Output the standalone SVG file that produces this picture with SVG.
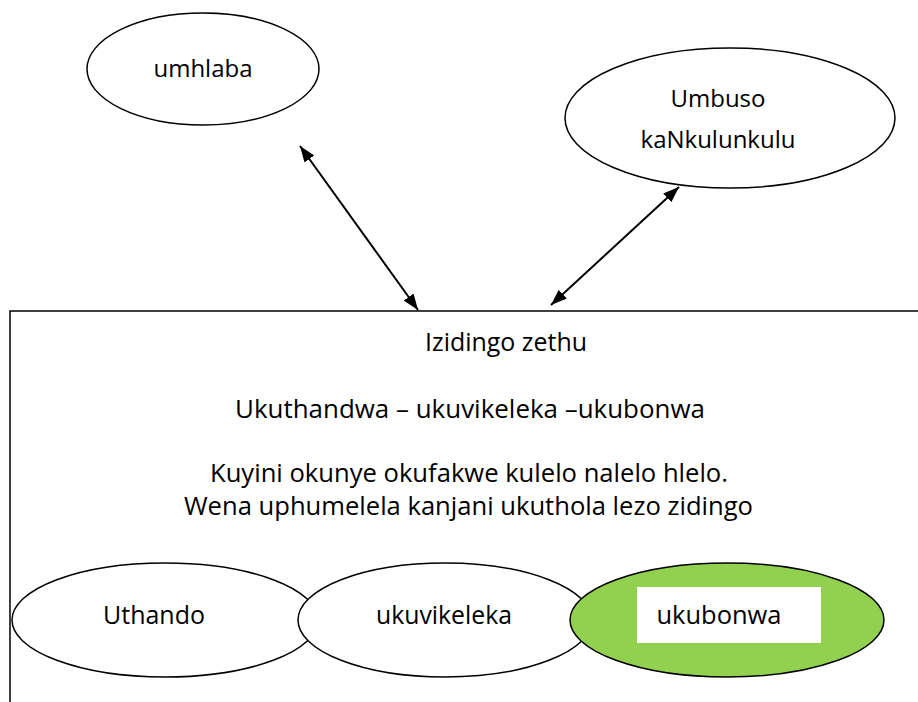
<svg xmlns="http://www.w3.org/2000/svg" width="918" height="702" viewBox="0 0 918 702">
<style>
.n{fill:#fff;stroke:#000;stroke-width:1.5}
.t{font-family:"Open Sans","Liberation Sans",sans-serif;font-size:24px;fill:#000;text-anchor:middle}
.b{font-size:26px}
</style>
<defs>
<marker id="a" viewBox="0 0 16 12" refX="16" refY="6" markerWidth="16" markerHeight="12" markerUnits="userSpaceOnUse" orient="auto-start-reverse">
<path d="M0,0 L16,6 L0,12 z" fill="#000"/>
</marker>
</defs>
<rect width="918" height="702" fill="#fff"/>
<g id="box">
<path d="M10,702 L10,311 L918,311" fill="none" stroke="#000" stroke-width="1.5"/>
<text class="t b" x="506" y="351" textLength="162" lengthAdjust="spacingAndGlyphs">Izidingo zethu</text>
<text class="t b" x="470" y="418" textLength="470" lengthAdjust="spacingAndGlyphs">Ukuthandwa – ukuvikeleka –ukubonwa</text>
<text class="t b" x="469" y="482" textLength="518" lengthAdjust="spacingAndGlyphs">Kuyini okunye okufakwe kulelo nalelo hlelo.</text>
<text class="t b" x="468.5" y="515" textLength="569" lengthAdjust="spacingAndGlyphs">Wena uphumelela kanjani ukuthola lezo zidingo</text>
</g>
<g id="umhlaba">
<ellipse class="n" cx="203" cy="69" rx="116" ry="56"/>
<text class="t" x="203" y="77">umhlaba</text>
</g>
<g id="umbuso">
<ellipse class="n" cx="730" cy="118" rx="165" ry="70"/>
<text class="t" x="718" y="107">Umbuso</text>
<text class="t" x="718" y="148">kaNkulunkulu</text>
</g>
<g id="uthando">
<ellipse class="n" cx="165" cy="620" rx="153" ry="57"/>
<text class="t b" x="154" y="624" textLength="102" lengthAdjust="spacingAndGlyphs">Uthando</text>
</g>
<g id="ukuvikeleka">
<ellipse class="n" cx="445" cy="620" rx="147" ry="57"/>
<text class="t b" x="444" y="624" textLength="136" lengthAdjust="spacingAndGlyphs">ukuvikeleka</text>
</g>
<g id="ukubonwa">
<ellipse cx="727" cy="620" rx="157" ry="57" fill="#92D050" stroke="#000" stroke-width="1.5"/>
<rect x="637" y="587" width="184" height="56" fill="#fff"/>
<text class="t b" x="719" y="624" textLength="125" lengthAdjust="spacingAndGlyphs">ukubonwa</text>
</g>
<g id="connectors" stroke="#000" stroke-width="2" fill="none">
<line x1="300" y1="146" x2="418" y2="310" marker-start="url(#a)" marker-end="url(#a)"/>
<line x1="679" y1="187" x2="551" y2="305" marker-start="url(#a)" marker-end="url(#a)"/>
</g>
</svg>
